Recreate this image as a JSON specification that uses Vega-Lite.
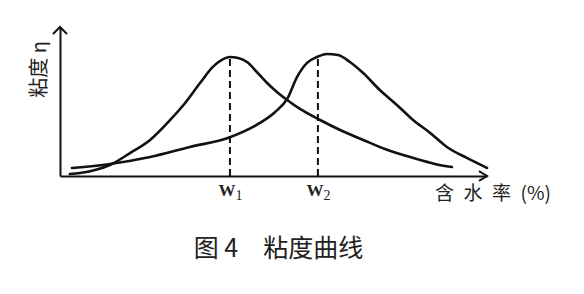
{
  "$schema": "https://vega.github.io/schema/vega-lite/v6.json",
  "width": 427,
  "height": 149,
  "autosize": {"type": "none"},
  "padding": {"left": 60, "top": 27, "right": 97, "bottom": 118},
  "background": "white",
  "config": {"view": {"stroke": null}},
  "title": {
    "text": "图 4\u3000粘度曲线",
    "orient": "bottom",
    "anchor": "middle",
    "offset": 33,
    "dx": 5,
    "font": "Noto Sans CJK SC",
    "fontSize": 25,
    "fontWeight": "normal",
    "color": "#222222"
  },
  "datasets": {
    "curves": [
      {"series": "a", "water": 2.3, "viscosity": 1.3},
      {"series": "a", "water": 4.7, "viscosity": 2.0},
      {"series": "a", "water": 8.2, "viscosity": 4.0},
      {"series": "a", "water": 11.7, "viscosity": 7.4},
      {"series": "a", "water": 16.4, "viscosity": 15.4},
      {"series": "a", "water": 21.1, "viscosity": 24.2},
      {"series": "a", "water": 25.8, "viscosity": 37.6},
      {"series": "a", "water": 29.3, "viscosity": 49.0},
      {"series": "a", "water": 32.8, "viscosity": 62.4},
      {"series": "a", "water": 35.8, "viscosity": 73.2},
      {"series": "a", "water": 37.9, "viscosity": 77.9},
      {"series": "a", "water": 39.8, "viscosity": 79.9},
      {"series": "a", "water": 41.7, "viscosity": 79.2},
      {"series": "a", "water": 43.8, "viscosity": 76.5},
      {"series": "a", "water": 46.1, "viscosity": 69.8},
      {"series": "a", "water": 48.5, "viscosity": 62.4},
      {"series": "a", "water": 50.8, "viscosity": 56.4},
      {"series": "a", "water": 53.2, "viscosity": 51.0},
      {"series": "a", "water": 56.2, "viscosity": 45.0},
      {"series": "a", "water": 60.9, "viscosity": 37.6},
      {"series": "a", "water": 65.6, "viscosity": 30.9},
      {"series": "a", "water": 71.0, "viscosity": 24.2},
      {"series": "a", "water": 76.1, "viscosity": 18.1},
      {"series": "a", "water": 82.7, "viscosity": 12.1},
      {"series": "a", "water": 87.8, "viscosity": 8.1},
      {"series": "a", "water": 91.8, "viscosity": 6.0},
      {"series": "b", "water": 2.8, "viscosity": 5.4},
      {"series": "b", "water": 11.7, "viscosity": 8.1},
      {"series": "b", "water": 21.1, "viscosity": 12.8},
      {"series": "b", "water": 30.4, "viscosity": 19.5},
      {"series": "b", "water": 39.3, "viscosity": 25.5},
      {"series": "b", "water": 46.8, "viscosity": 35.6},
      {"series": "b", "water": 50.4, "viscosity": 43.0},
      {"series": "b", "water": 53.2, "viscosity": 51.7},
      {"series": "b", "water": 55.5, "viscosity": 66.4},
      {"series": "b", "water": 57.8, "viscosity": 75.8},
      {"series": "b", "water": 60.2, "viscosity": 79.9},
      {"series": "b", "water": 62.5, "viscosity": 81.9},
      {"series": "b", "water": 65.1, "viscosity": 81.2},
      {"series": "b", "water": 67.9, "viscosity": 76.5},
      {"series": "b", "water": 71.0, "viscosity": 69.1},
      {"series": "b", "water": 74.9, "viscosity": 57.7},
      {"series": "b", "water": 78.9, "viscosity": 47.7},
      {"series": "b", "water": 82.7, "viscosity": 37.6},
      {"series": "b", "water": 86.7, "viscosity": 28.9},
      {"series": "b", "water": 90.6, "viscosity": 19.5},
      {"series": "b", "water": 95.3, "viscosity": 12.1},
      {"series": "b", "water": 100.0, "viscosity": 5.4}
    ],
    "peaks": [
      {"name": "W", "sub": "1", "water": 39.8, "base": 0, "viscosity": 79.9},
      {"name": "W", "sub": "2", "water": 60.4, "base": 0, "viscosity": 80.5}
    ],
    "ends": [
      {"axis": "x", "water": 100, "viscosity": 0},
      {"axis": "y", "water": 0, "viscosity": 100}
    ]
  },
  "layer": [
    {
      "data": {"name": "peaks"},
      "mark": {"type": "rule", "color": "#111111", "strokeWidth": 2, "strokeDash": [7, 4]},
      "encoding": {
        "x": {
          "field": "water",
          "type": "quantitative",
          "scale": {"domain": [0, 100], "nice": false, "zero": false},
          "axis": {"domain": true, "domainWidth": 2, "domainColor": "#111111", "ticks": false, "labels": false, "grid": false, "title": null}
        },
        "y": {
          "field": "base",
          "type": "quantitative",
          "scale": {"domain": [0, 100], "nice": false, "zero": false},
          "axis": {"domain": true, "domainWidth": 2, "domainColor": "#111111", "ticks": false, "labels": false, "grid": false, "title": null}
        },
        "y2": {"field": "viscosity"}
      }
    },
    {
      "data": {"name": "curves"},
      "mark": {"type": "line", "color": "#111111", "strokeWidth": 2.6, "interpolate": "monotone", "strokeCap": "round"},
      "encoding": {
        "x": {"field": "water", "type": "quantitative"},
        "y": {"field": "viscosity", "type": "quantitative"},
        "detail": {"field": "series", "type": "nominal"}
      }
    },
    {
      "data": {"name": "ends"},
      "transform": [{"filter": "datum.axis == 'x'"}],
      "mark": {"type": "point", "shape": "M-1,-0.6L0,0L-1,0.6", "size": 256, "filled": false, "stroke": "#111111", "strokeWidth": 2, "opacity": 1},
      "encoding": {
        "x": {"field": "water", "type": "quantitative"},
        "y": {"field": "viscosity", "type": "quantitative"}
      }
    },
    {
      "data": {"name": "ends"},
      "transform": [{"filter": "datum.axis == 'y'"}],
      "mark": {"type": "point", "shape": "M-1,1L0,0L1,1", "size": 196, "filled": false, "stroke": "#111111", "strokeWidth": 2, "opacity": 1},
      "encoding": {
        "x": {"field": "water", "type": "quantitative"},
        "y": {"field": "viscosity", "type": "quantitative"}
      }
    },
    {
      "data": {"name": "peaks"},
      "mark": {"type": "text", "font": "Liberation Serif", "fontSize": 17, "fontWeight": "bold", "color": "#222222", "baseline": "middle", "align": "center", "dx": -3, "dy": 15},
      "encoding": {
        "x": {"field": "water", "type": "quantitative"},
        "y": {"field": "base", "type": "quantitative"},
        "text": {"field": "name", "type": "nominal"}
      }
    },
    {
      "data": {"name": "peaks"},
      "mark": {"type": "text", "font": "Liberation Serif", "fontSize": 14, "color": "#222222", "baseline": "middle", "align": "center", "dx": 9, "dy": 20},
      "encoding": {
        "x": {"field": "water", "type": "quantitative"},
        "y": {"field": "base", "type": "quantitative"},
        "text": {"field": "sub", "type": "nominal"}
      }
    },
    {
      "data": {"values": [{"label": "含\u2002水\u2002率\u2002(%)", "water": 100, "viscosity": 0}]},
      "mark": {"type": "text", "font": "Noto Sans CJK SC", "fontSize": 19, "color": "#222222", "baseline": "middle", "align": "center", "dx": 6, "dy": 18},
      "encoding": {
        "x": {"field": "water", "type": "quantitative"},
        "y": {"field": "viscosity", "type": "quantitative"},
        "text": {"field": "label", "type": "nominal"}
      }
    },
    {
      "data": {"values": [{"label": "粘度 η", "water": 0, "viscosity": 50}]},
      "mark": {"type": "text", "font": "Noto Sans CJK SC", "fontSize": 20, "color": "#222222", "baseline": "middle", "align": "center", "angle": 270, "dx": 32, "dy": -20},
      "encoding": {
        "x": {"field": "water", "type": "quantitative"},
        "y": {"field": "viscosity", "type": "quantitative"},
        "text": {"field": "label", "type": "nominal"}
      }
    }
  ]
}
